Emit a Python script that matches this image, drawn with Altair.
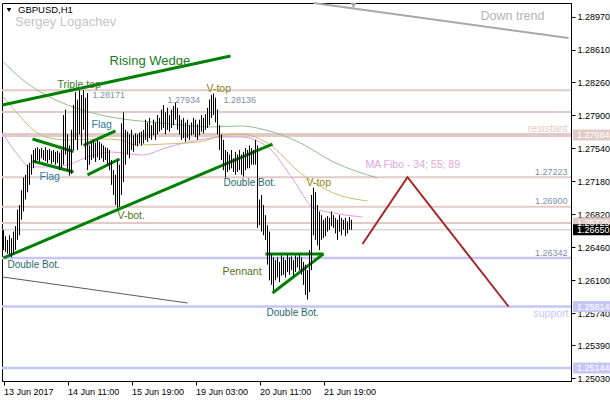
import altair as alt
import pandas as pd

FONT = "Liberation Sans"

# GBPUSD hourly bars, index 0 = 13 Jun 2017 00:00, one bar per trading hour
bar_high = [
    1.2665, 1.2658, 1.2654, 1.2659, 1.2656, 1.2663, 1.2669, 1.2687, 1.2692, 1.2708,
    1.2722, 1.2725, 1.2736, 1.2738, 1.2747, 1.2752, 1.2754, 1.2755, 1.2753, 1.2754,
    1.2752, 1.2755, 1.2752, 1.2753, 1.2751, 1.2752, 1.2750, 1.2751, 1.2749, 1.2752,
    1.2790, 1.2796, 1.2769, 1.2757, 1.2774, 1.2801, 1.2815, 1.2807, 1.2817, 1.2812,
    1.28171, 1.2809, 1.2814, 1.2757, 1.2761, 1.2763, 1.2760, 1.2763, 1.2761, 1.2759,
    1.2757, 1.2755, 1.2754, 1.2752, 1.2741, 1.2730, 1.2725, 1.2741, 1.2736, 1.2781,
    1.2793, 1.2774, 1.2772, 1.2769, 1.2774, 1.2768, 1.2770, 1.2769, 1.2771, 1.2772,
    1.2774, 1.2785, 1.2782, 1.2787, 1.2779, 1.2785, 1.2782, 1.2790, 1.2787, 1.2796,
    1.2801, 1.2793, 1.2798, 1.2790, 1.2796, 1.2800, 1.2804, 1.2798, 1.2790, 1.2785,
    1.2787, 1.2782, 1.2785, 1.2779, 1.2782, 1.2787, 1.2785, 1.2780, 1.2785, 1.2790,
    1.2787, 1.2791, 1.2798, 1.2807, 1.2812, 1.28136, 1.2809, 1.2796, 1.2779, 1.2769,
    1.2763, 1.2752, 1.2750, 1.2747, 1.2752, 1.2743, 1.2750, 1.2747, 1.2752, 1.2747,
    1.2750, 1.2754, 1.2752, 1.2757, 1.2754, 1.2752, 1.2763, 1.2757, 1.2698, 1.2703,
    1.2692, 1.2681, 1.2670, 1.2663, 1.2638, 1.2635, 1.2632, 1.2635, 1.2630, 1.2637,
    1.2635, 1.2632, 1.2638, 1.2635, 1.2636, 1.2632, 1.2637, 1.2635, 1.2638, 1.2635,
    1.2630, 1.2627, 1.2621, 1.2643, 1.2703, 1.2711, 1.2706, 1.2692, 1.2685, 1.2681,
    1.2676, 1.2678, 1.2680, 1.2678, 1.2685, 1.2681, 1.2678, 1.2676, 1.2681, 1.2678,
    1.2676, 1.2678, 1.2674, 1.2679, 1.2676,
]
bar_low = [
    1.2643, 1.2641, 1.2639, 1.2637, 1.2635, 1.2639, 1.2643, 1.2654, 1.2659, 1.2676,
    1.2685, 1.2698, 1.2706, 1.2714, 1.2725, 1.2732, 1.2738, 1.2741, 1.2739, 1.2743,
    1.2741, 1.2740, 1.2738, 1.2741, 1.2737, 1.2739, 1.2736, 1.2738, 1.2730, 1.2732,
    1.2736, 1.2747, 1.2730, 1.2724, 1.2726, 1.2752, 1.2763, 1.2752, 1.2769, 1.2757,
    1.2774, 1.2741, 1.2730, 1.2736, 1.2741, 1.2743, 1.2739, 1.2744, 1.2741, 1.2743,
    1.2739, 1.2741, 1.2736, 1.2730, 1.2714, 1.2703, 1.2692, 1.2689, 1.2690, 1.2703,
    1.2717, 1.2736, 1.2747, 1.2743, 1.2752, 1.2750, 1.2757, 1.2756, 1.2759, 1.2757,
    1.2759, 1.2763, 1.2761, 1.2765, 1.2763, 1.2768, 1.2763, 1.2769, 1.2772, 1.2774,
    1.2776, 1.2769, 1.2774, 1.2772, 1.2776, 1.2779, 1.2785, 1.2774, 1.2769, 1.2763,
    1.2765, 1.2761, 1.2765, 1.2763, 1.2768, 1.2769, 1.2766, 1.2763, 1.2768, 1.2772,
    1.2770, 1.2774, 1.2776, 1.2779, 1.2787, 1.2790, 1.2782, 1.2769, 1.2752, 1.2741,
    1.2730, 1.2722, 1.2728, 1.2730, 1.2732, 1.2728, 1.2725, 1.2728, 1.2730, 1.2725,
    1.2723, 1.2730, 1.2732, 1.2732, 1.2736, 1.2736, 1.2736, 1.2667, 1.2670, 1.2663,
    1.2659, 1.2654, 1.2627, 1.2610, 1.2605, 1.2599, 1.2610, 1.2613, 1.2608, 1.2615,
    1.2616, 1.2613, 1.2619, 1.2616, 1.2621, 1.2615, 1.2619, 1.2624, 1.2621, 1.2616,
    1.2605, 1.2594, 1.2589, 1.2597, 1.2621, 1.2659, 1.2654, 1.2648, 1.2643, 1.2654,
    1.2656, 1.2658, 1.2663, 1.2665, 1.2669, 1.2667, 1.2661, 1.2654, 1.2663, 1.2659,
    1.2665, 1.2658, 1.2661, 1.2665, 1.2665,
]

# Price scale ticks and time axis labels
tick_prices = [1.28970, 1.28610, 1.28260, 1.27900, 1.27540, 1.27180,
               1.26820, 1.26460, 1.26100, 1.25740, 1.25390, 1.25030]
date_ticks = [0, 32, 64, 96, 128, 160]
date_labels = ["13 Jun 2017", "14 Jun 11:00", "15 Jun 19:00",
               "19 Jun 03:00", "20 Jun 11:00", "21 Jun 19:00"]

# Horizontal levels
resist_levels = [1.28171, 1.27934, 1.27223, 1.26900, 1.26725]
resist_main = 1.27684
support_levels = [1.26342, 1.25814, 1.25144]
last_price = 1.26650

# Fibonacci moving averages 34 / 55 / 89 (bar index, value)
ma34_idx = [-0.5, 6, 13.5, 21, 32, 42, 53.5, 69.5, 81, 97.5, 111, 118.5, 132, 145, 155, 165, 179.5]
ma34_val = [1.27706, 1.27498, 1.27335, 1.27335, 1.27356, 1.27444, 1.27498, 1.27465, 1.27542,
            1.27629, 1.27662, 1.27662, 1.27553, 1.27193, 1.26888, 1.26833, 1.26790]
ma55_idx = [0, 8.5, 15, 21, 32, 48.5, 58.5, 66, 81, 97.5, 111, 118.5, 132, 148.5, 165, 182]
ma55_val = [1.28098, 1.27880, 1.27738, 1.27662, 1.27629, 1.27640, 1.27629, 1.27574, 1.27585,
            1.27607, 1.27684, 1.27694, 1.27596, 1.27269, 1.27051, 1.26964]
ma89_idx = [0, 8.5, 18.5, 32, 48.5, 63.5, 73.5, 88.5, 103.5, 118.5, 131, 148.5, 165, 187]
ma89_val = [1.28479, 1.28305, 1.28152, 1.28011, 1.27902, 1.27847, 1.27825, 1.27793, 1.27771,
            1.27782, 1.27738, 1.27596, 1.27389, 1.27215]

# Pattern lines: (start index, start price, end index, end price)
wedge_top = (-0.5, 1.28011, 113.5, 1.28545)
wedge_bottom = (0, 1.26343, 134.5, 1.27585)
flag1_top = (14.5, 1.27640, 35, 1.27504)
flag1_bottom = (14.5, 1.27400, 35, 1.27280)
flag2_top = (40, 1.27570, 56, 1.27727)
flag2_bottom = (42, 1.27248, 58, 1.27422)
pennant_top = (131, 1.26387, 160, 1.26387)
pennant_bottom = (134.5, 1.25961, 160, 1.26387)
downtrend_upper = (155, 1.29122, 282.5, 1.28741)
downtrend_lower = (-0.5, 1.26136, 92, 1.25852)
forecast_idx = [179.5, 202, 252.5]
forecast_val = [1.26495, 1.27223, 1.25814]

# ---------------------------------------------------------------------------
xs = alt.Scale(domain=[-0.75, 283.75], nice=False, zero=False)
ys = alt.Scale(domain=[1.25002, 1.29122], nice=False, zero=False)

label_expr = "[" + ",".join("'%s'" % s for s in date_labels) + "][round(datum.value / 32)]"
x_axis = alt.Axis(values=date_ticks, labelExpr=label_expr, labelAlign="left",
                  labelPadding=2, labelFont=FONT, labelFontSize=9, labelColor="black",
                  tickSize=4, tickColor="black", domainColor="black", grid=False,
                  labelOverlap=False, labelBound=False, labelFlush=False)
y_axis = alt.Axis(orient="right", values=tick_prices, format=".5f", labelFont=FONT,
                  labelFontSize=9, labelColor="black", labelPadding=2, tickSize=4,
                  tickColor="black", domainColor="black", grid=False, labelOverlap=False,
                  labelBound=False, labelFlush=False)


def X(field):
    return alt.X(field, type="quantitative", scale=xs, axis=x_axis, title=None)


def Y(field):
    return alt.Y(field, type="quantitative", scale=ys, axis=y_axis, title=None)


bars_df = pd.DataFrame({"i": list(range(len(bar_high))), "high": bar_high, "low": bar_low})

levels_df = pd.DataFrame(
    [{"price": p, "color": "#E2CBC7", "w": 2} for p in resist_levels]
    + [{"price": resist_main, "color": "#E2CBC7", "w": 4}]
    + [{"price": last_price, "color": "#C4C4C4", "w": 1}]
    + [{"price": p, "color": "#C6C6F6", "w": 2.5} for p in support_levels]
)

ma_rows = []
for name, idx, val, col in [("MA34", ma34_idx, ma34_val, "#E39BE3"),
                            ("MA55", ma55_idx, ma55_val, "#C9BD6E"),
                            ("MA89", ma89_idx, ma89_val, "#8DBF8D")]:
    for k, (a, b) in enumerate(zip(idx, val)):
        ma_rows.append({"series": name, "k": k, "i": a, "price": b, "color": col})
ma_df = pd.DataFrame(ma_rows)

seg_rows = []
segments = [
    ("wedge_top", wedge_top, "#008000", 3),
    ("wedge_bottom", wedge_bottom, "#008000", 3),
    ("flag1_top", flag1_top, "#008000", 3),
    ("flag1_bottom", flag1_bottom, "#008000", 3),
    ("flag2_top", flag2_top, "#008000", 3),
    ("flag2_bottom", flag2_bottom, "#008000", 3),
    ("pennant_top", pennant_top, "#008000", 3),
    ("pennant_bottom", pennant_bottom, "#008000", 3),
    ("downtrend_upper", downtrend_upper, "#A8A8A8", 2),
    ("downtrend_lower", downtrend_lower, "#5A5A5A", 1),
]
for name, (i0, p0, i1, p1), col, w in segments:
    seg_rows.append({"seg": name, "k": 0, "i": i0, "price": p0, "color": col, "w": w})
    seg_rows.append({"seg": name, "k": 1, "i": i1, "price": p1, "color": col, "w": w})
for k, (a, b) in enumerate(zip(forecast_idx, forecast_val)):
    seg_rows.append({"seg": "forecast", "k": k, "i": a, "price": b, "color": "#A52A2A", "w": 2})
seg_df = pd.DataFrame(seg_rows)

# Text annotations placed in bar-index / price coordinates
notes_left = pd.DataFrame([
    {"i": 53, "price": 1.28490, "text": "Rising Wedge", "color": "#1B7A1B", "size": 13},
    {"i": 27, "price": 1.28228, "text": "Triple top", "color": "#3A7A24", "size": 10.5},
    {"i": 44.5, "price": 1.28120, "text": "1.28171", "color": "#7F8FA6", "size": 9},
    {"i": 82, "price": 1.28065, "text": "1.27934", "color": "#7F8FA6", "size": 9},
    {"i": 101.5, "price": 1.28185, "text": "V-top", "color": "#8F8416", "size": 10.5},
    {"i": 110, "price": 1.28065, "text": "1.28136", "color": "#7F8FA6", "size": 9},
    {"i": 44, "price": 1.27793, "text": "Flag", "color": "#2B7C9C", "size": 10.5},
    {"i": 18, "price": 1.27226, "text": "Flag", "color": "#2B7C9C", "size": 10.5},
    {"i": 57, "price": 1.26801, "text": "V-bot.", "color": "#55701C", "size": 10.5},
    {"i": 2, "price": 1.26267, "text": "Double Bot.", "color": "#1D6B6B", "size": 10},
    {"i": 110, "price": 1.27160, "text": "Double Bot.", "color": "#1D6B6B", "size": 10},
    {"i": 151.5, "price": 1.27160, "text": "V-top", "color": "#8F8416", "size": 10.5},
    {"i": 109.5, "price": 1.26190, "text": "Pennant", "color": "#55701C", "size": 10.5},
    {"i": 131.5, "price": 1.25743, "text": "Double Bot.", "color": "#1D6B6B", "size": 10},
    {"i": 181, "price": 1.27357, "text": "MA Fibo - 34; 55; 89", "color": "#E0A6E0", "size": 10.5},
    {"i": 238.5, "price": 1.28981, "text": "Down trend", "color": "#B4B4B4", "size": 12.5},
])
notes_right = pd.DataFrame([
    {"i": 282, "price": 1.27749, "text": "resistant", "color": "#E2CBC7", "size": 10.5},
    {"i": 282.5, "price": 1.25732, "text": "support", "color": "#C6C6F6", "size": 10.5},
    {"i": 282, "price": 1.27280, "text": "1.27223", "color": "#7F8FA6", "size": 9},
    {"i": 282, "price": 1.26964, "text": "1.26900", "color": "#7F8FA6", "size": 9},
    {"i": 282, "price": 1.26397, "text": "1.26342", "color": "#7F8FA6", "size": 9},
])

# Price tags on the right scale
tags_df = pd.DataFrame([
    {"price": resist_main, "fill": "#E2CBC7", "text": "1.27684"},
    {"price": 1.26725, "fill": "#E2CBC7", "text": "1.26725"},
    {"price": last_price, "fill": "#000000", "text": "1.26650"},
    {"price": 1.25814, "fill": "#C6C6F6", "text": "1.25814"},
    {"price": 1.25144, "fill": "#C6C6F6", "text": "1.25144"},
])

levels = alt.Chart(levels_df).mark_rule().encode(
    y=Y("price"),
    color=alt.Color("color:N", scale=None),
    strokeWidth=alt.StrokeWidth("w:Q", scale=None),
)

ma_lines = alt.Chart(ma_df).mark_line(interpolate="monotone", strokeWidth=1).encode(
    x=X("i"), y=Y("price"), detail="series:N", order="k:Q",
    color=alt.Color("color:N", scale=None),
)

seg_lines = alt.Chart(seg_df).mark_line().encode(
    x=X("i"), y=Y("price"), detail="seg:N", order="k:Q",
    color=alt.Color("color:N", scale=None),
    strokeWidth=alt.StrokeWidth("w:Q", scale=None),
)

trend_arrow = alt.Chart(pd.DataFrame({"i": [175], "price": [1.29095]})).mark_point(
    shape="triangle-down", filled=True, color="#A8A8A8", size=40, opacity=1
).encode(x=X("i"), y=Y("price"))

bars = alt.Chart(bars_df).mark_rule(color="black", strokeWidth=1).encode(
    x=X("i"), y=Y("low"), y2=alt.Y2("high"),
)

text_left = alt.Chart(notes_left).mark_text(align="left", baseline="middle", font=FONT).encode(
    x=X("i"), y=Y("price"), text="text:N",
    color=alt.Color("color:N", scale=None),
    size=alt.Size("size:Q", scale=None),
)
text_right = alt.Chart(notes_right).mark_text(align="right", baseline="middle", font=FONT).encode(
    x=X("i"), y=Y("price"), text="text:N",
    color=alt.Color("color:N", scale=None),
    size=alt.Size("size:Q", scale=None),
)

tag_boxes = alt.Chart(tags_df).transform_calculate(
    top="datum.price + 0.0006", bot="datum.price - 0.0006"
).mark_rect().encode(
    x=alt.value(571), x2=alt.value(612),
    y=Y("top"), y2=alt.Y2("bot"),
    fill=alt.Fill("fill:N", scale=None),
)
tag_text = alt.Chart(tags_df).mark_text(
    align="left", baseline="middle", font=FONT, fontSize=9, color="white"
).encode(x=alt.value(575), y=Y("price"), text="text:N")

head_df = pd.DataFrame({"a": [0]})
head_arrow = alt.Chart(head_df).mark_point(
    shape="triangle-down", filled=True, color="black", size=22, opacity=1
).encode(x=alt.value(7), y=alt.value(7))
head_symbol = alt.Chart(head_df).mark_text(
    align="left", baseline="middle", font=FONT, fontSize=9.5, color="black"
).encode(x=alt.value(16), y=alt.value(7), text=alt.value("GBPUSD,H1"))
head_author = alt.Chart(head_df).mark_text(
    align="left", baseline="middle", font=FONT, fontSize=13, color="#C4C4C4"
).encode(x=alt.value(13), y=alt.value(19), text=alt.value("Sergey Logachev"))

chart = alt.layer(
    levels, ma_lines, seg_lines, trend_arrow, bars, text_left, text_right,
    tag_boxes, tag_text, head_arrow, head_symbol, head_author,
).properties(
    width=569, height=378,
    autosize=alt.AutoSizeParams(type="none"),
    padding={"left": 2, "top": 3, "right": 39, "bottom": 19},
    background="white",
).configure_view(stroke="black", strokeWidth=1)

chart.save("out.html", embed_options={"renderer": "svg", "actions": False})
